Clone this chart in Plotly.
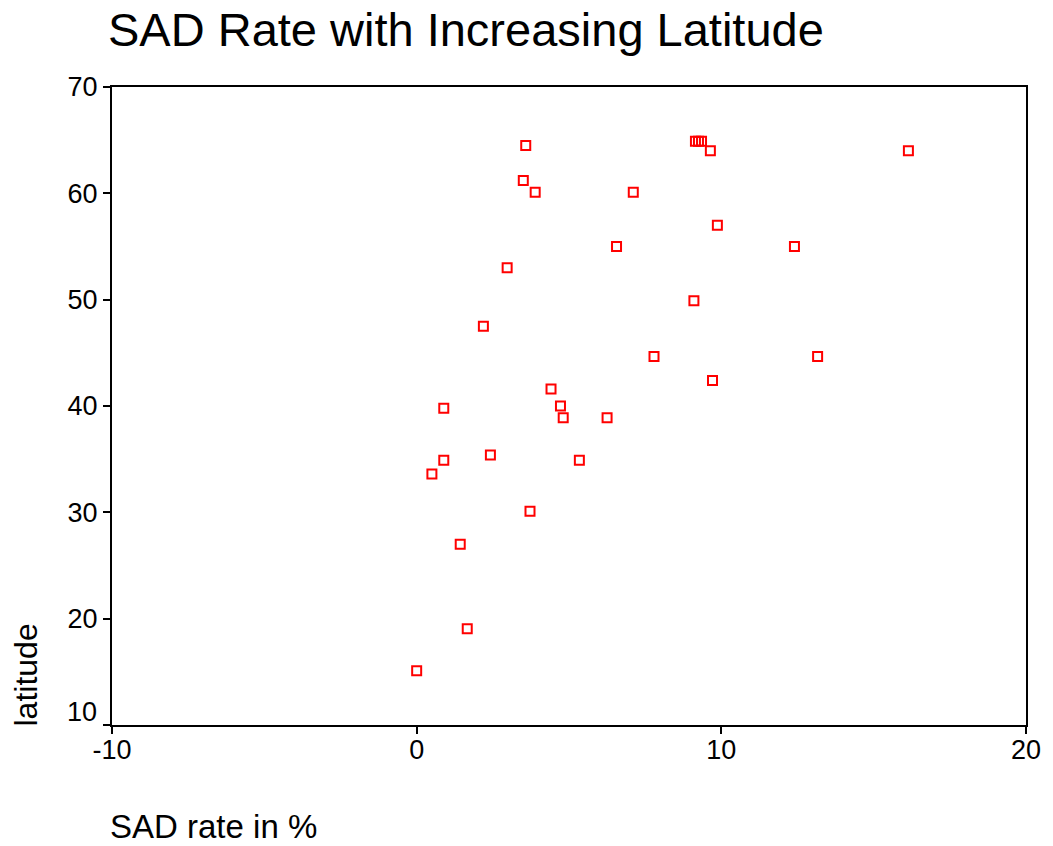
import plotly.graph_objects as go

# SAD rate (%) and latitude for each location
sad_rate = [0.0, 1.66, 1.43, 3.72, 0.50, 0.89, 2.42, 5.34, 4.81, 6.25,
            0.89, 4.72, 4.41, 9.71, 7.79, 13.16, 2.19, 9.10, 2.97, 6.56,
            12.40, 9.87, 3.89, 7.11, 3.50, 3.58, 9.15, 9.25, 9.35, 9.64,
            16.14]
latitude = [15.1, 19.05, 27.0, 30.1, 33.6, 34.9, 35.4, 34.9, 38.9, 38.9,
            39.8, 40.0, 41.6, 42.4, 44.65, 44.65, 47.5, 49.9, 53.0, 55.0,
            55.0, 57.0, 60.1, 60.1, 61.2, 64.5, 64.9, 64.9, 64.9, 64.0,
            64.0]

x_ticks = [-10, 0, 10, 20]
x_ticktext = ["-10", "0", "10", "20"]
y_ticks = [10, 20, 30, 40, 50, 60, 70]
y_ticktext = ["" if v == 10 else str(v) for v in y_ticks]

FONT = "Liberation Sans, Arial, sans-serif"
TICK_SIZE = 27

fig = go.Figure()
fig.add_trace(go.Scatter(
    x=sad_rate, y=latitude, mode="markers",
    marker=dict(symbol="square-open", size=9, color="#ff0000",
                line=dict(width=2, color="#ff0000")),
    showlegend=False, hoverinfo="x+y",
))

axis_common = dict(
    showgrid=False, zeroline=False, showline=True, linecolor="black",
    linewidth=2, mirror=True, ticks="outside", ticklen=7, tickwidth=2,
    tickcolor="black", tickfont=dict(family=FONT, size=TICK_SIZE, color="black"),
)

fig.update_layout(
    width=1053, height=846,
    margin=dict(l=112, r=21, t=87, b=121),
    paper_bgcolor="white", plot_bgcolor="white",
    font=dict(family=FONT, color="black"),
    xaxis=dict(range=[-10, 20], tickvals=x_ticks, ticktext=x_ticktext,
               ticklabelstandoff=-7, **axis_common),
    yaxis=dict(range=[10, 70], tickvals=y_ticks, ticktext=y_ticktext,
               **axis_common),
    title=dict(text="SAD Rate with Increasing Latitude",
               font=dict(family=FONT, size=47, color="black"),
               x=108 / 1053, xanchor="left", xref="container",
               y=1 - 30 / 846, yanchor="middle", yref="container"),
)

annotations = [
    dict(text="10", xref="paper", yref="y", x=0, y=10, xanchor="right",
         yanchor="middle", xshift=-13, yshift=13, showarrow=False,
         font=dict(family=FONT, size=TICK_SIZE, color="black")),
    dict(text="latitude", xref="paper", yref="paper", x=0, y=0,
         xanchor="center", yanchor="bottom", xshift=-87, yshift=-4,
         textangle=-90, showarrow=False,
         font=dict(family=FONT, size=32, color="black")),
    dict(text="SAD rate in %", xref="paper", yref="paper", x=0, y=0,
         xanchor="left", yanchor="middle", xshift=-4, yshift=-101,
         showarrow=False, font=dict(family=FONT, size=33, color="black")),
]
fig.update_layout(annotations=annotations)

fig.write_html(
    "out.html",
    config={"displayModeBar": False},
    post_script="document.body.style.margin='0';document.body.style.overflow='hidden';",
)
